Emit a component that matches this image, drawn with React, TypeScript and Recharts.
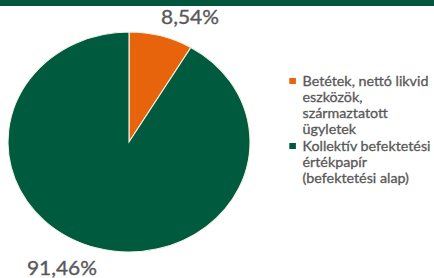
import React from "react";
import { PieChart, Pie, Cell, Legend } from "recharts";

const categories = [
  "Betétek, nettó likvid eszközök, származtatott ügyletek",
  "Kollektív befektetési értékpapír (befektetési alap)",
];
const values = [8.54, 91.46];
const valueLabels = ["8,54%", "91,46%"];
const legendLines = [
  ["Betétek, nettó likvid", "eszközök,", "származtatott", "ügyletek"],
  ["Kollektív befektetési", "értékpapír", "(befektetési alap)"],
];
const colors = ["#E8640C", "#005A3E"];

const data = categories.map((name, i) => ({ name, value: values[i], label: valueLabels[i], idx: i }));

const SX = 1.1;
const FONT = "Lato, 'Open Sans', sans-serif";
const RAD = Math.PI / 180;

const renderLabel = (p: any) => {
  const { cx, cy, outerRadius, midAngle, payload } = p;
  const c = Math.cos(-midAngle * RAD);
  const s = Math.sin(-midAngle * RAD);
  const ex = cx + outerRadius * c;
  const ey = cy + outerRadius * s;
  const up = s < 0;
  return (
    <text
      x={ex}
      y={up ? ey - 12 : ey + 27}
      textAnchor={c >= 0 ? "start" : "end"}
      fill="#595959"
      fontSize={19}
      fontFamily={FONT}
      stroke="#595959"
      strokeWidth={0.35}
    >
      {payload.label}
    </text>
  );
};

const renderLegend = () => (
  <div style={{ fontFamily: FONT, fontSize: 13, color: "#595959", lineHeight: "16px", WebkitTextStroke: "0.3px #595959" }}>
    {legendLines.map((lines, i) => (
      <div key={i} style={{ position: "relative", paddingLeft: 12, marginBottom: 1 }}>
        <span
          style={{
            position: "absolute",
            left: 0,
            top: 5,
            width: 5.5,
            height: 6,
            background: colors[i],
          }}
        />
        {lines.map((l, j) => (
          <div key={j} style={{ whiteSpace: "nowrap" }}>{l}</div>
        ))}
      </div>
    ))}
  </div>
);

export default function App() {
  return (
    <div style={{ position: "absolute", left: 0, top: 0, width: 434, height: 278, overflow: "hidden", background: "#fff" }}>
      <div style={{ position: "absolute", left: 0, top: 0, width: 434, height: 6, background: "#00553A" }} />
      <div style={{ position: "absolute", left: 0, top: 0, width: 434 / SX, height: 278, transform: `scaleX(${SX})`, transformOrigin: "0 0" }}>
        <PieChart width={Math.round(434 / SX)} height={278} margin={{ top: 0, right: 0, bottom: 0, left: 0 }}>
          <Pie
            data={data}
            dataKey="value"
            nameKey="name"
            cx={129 / SX}
            cy={142}
            outerRadius={110}
            startAngle={90}
            endAngle={-270}
            stroke="#F4F2E4"
            strokeWidth={1}
            label={renderLabel}
            labelLine={false}
            isAnimationActive={false}
          >
            {data.map((d, i) => (
              <Cell key={i} fill={colors[i]} />
            ))}
          </Pie>
          <Legend
            content={renderLegend}
            wrapperStyle={{ position: "absolute", left: 263, top: 73, width: 130 }}
          />
        </PieChart>
      </div>
    </div>
  );
}
